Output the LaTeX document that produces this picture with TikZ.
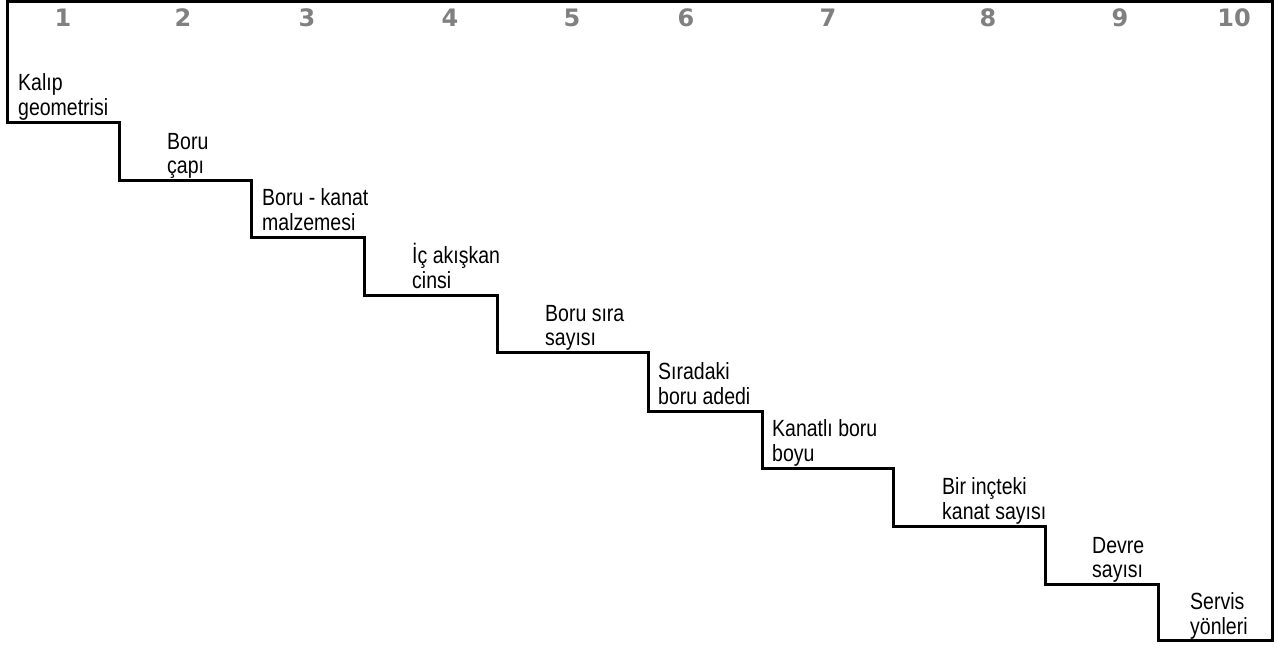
\documentclass[tikz,border=0pt]{standalone}
\usepackage{fontspec}
\usepackage{graphicx}
\setmainfont{Liberation Sans}
\newfontfamily\numfont{DejaVu Sans}[BoldFont={DejaVu Sans Bold}]
\definecolor{numgray}{RGB}{128,128,128}
\newcommand{\steptext}[2]{\scalebox{1}[1.2]{\fontsize{19.5}{20}\selectfont\begin{tabular}[b]{@{}l@{}}#1\\#2\end{tabular}}}
\tikzset{
  stair/.style={line width=3pt, line join=miter, draw=black},
  colnum/.style={font=\numfont\bfseries\fontsize{24}{24}\selectfont, text=numgray, inner sep=0pt, anchor=center},
  label/.style={inner sep=0pt, anchor=base west}
}
\begin{document}
\begin{tikzpicture}[x=1pt,y=-1pt]
\useasboundingbox (0,0) rectangle (1286,648);
% staircase frame
\draw[stair] (7,122) -- (7,1) -- (1272,1) -- (1272,640) -- (1158,640) -- (1158,584)
  -- (1045,584) -- (1045,526) -- (893,526) -- (893,468) -- (762,468) -- (762,411)
  -- (648,411) -- (648,352) -- (497,352) -- (497,295) -- (364,295) -- (364,237)
  -- (251,237) -- (251,180) -- (119,180) -- (119,122) -- cycle;
% column numbers
\node[colnum] (n1) at (63,18) {1};
\node[colnum] (n2) at (183,18) {2};
\node[colnum] (n3) at (307,18) {3};
\node[colnum] (n4) at (450,18) {4};
\node[colnum] (n5) at (572,18) {5};
\node[colnum] (n6) at (686,18) {6};
\node[colnum] (n7) at (828,18) {7};
\node[colnum] (n8) at (988,18) {8};
\node[colnum] (n9) at (1120,18) {9};
\node[colnum] (n10) at (1234,18) {10};
% step labels
\node[label] (s1) at (18,115) {\steptext{Kalıp}{geometrisi}};
\node[label] (s2) at (167,173) {\steptext{Boru}{çapı}};
\node[label] (s3) at (262,230) {\steptext{Boru - kanat}{malzemesi}};
\node[label] (s4) at (412,288) {\steptext{İç akışkan}{cinsi}};
\node[label] (s5) at (545,345) {\steptext{Boru sıra}{sayısı}};
\node[label] (s6) at (658,404) {\steptext{Sıradaki}{boru adedi}};
\node[label] (s7) at (772,461) {\steptext{Kanatlı boru}{boyu}};
\node[label] (s8) at (942,519) {\steptext{Bir inçteki}{kanat sayısı}};
\node[label] (s9) at (1092,577) {\steptext{Devre}{sayısı}};
\node[label] (s10) at (1190,634) {\steptext{Servis}{yönleri}};
\end{tikzpicture}
\end{document}
